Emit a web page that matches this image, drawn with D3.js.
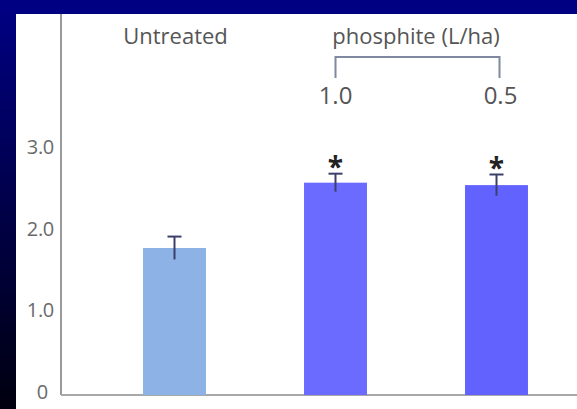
<!DOCTYPE html>
<html><head><meta charset="utf-8">
<script src="https://cdn.jsdelivr.net/npm/d3@7"></script>
<style>html,body{margin:0;padding:0;background:#000080;}svg{display:block;}</style>
</head><body>
<script>
const categories = ["Untreated", "1.0", "0.5"];
const values = [1.80, 2.60, 2.57];
const errors = [0.14, 0.11, 0.13];
const significant = [false, true, true];
const yTicks = [0, 1, 2, 3];
const yTickLabels = ["0", "1.0", "2.0", "3.0"];
const barColors = ["#8cb2e6", "#6b6bff", "#6262ff"];

const W = 577, H = 409;
const svg = d3.select("body").append("svg").attr("width", W).attr("height", H);
const defs = svg.append("defs");
const g1 = defs.append("linearGradient").attr("id", "bg").attr("x1", 0).attr("y1", 0).attr("x2", 0).attr("y2", 1);
g1.append("stop").attr("offset", "0%").attr("stop-color", "#000084");
g1.append("stop").attr("offset", "100%").attr("stop-color", "#00000f");
svg.append("rect").attr("width", W).attr("height", H).attr("fill", "url(#bg)");
svg.append("rect").attr("x", 0).attr("y", 0).attr("width", W).attr("height", 14).attr("fill", "#000082");
svg.append("rect").attr("x", 16).attr("y", 14).attr("width", W - 16).attr("height", H - 14).attr("fill", "#ffffff");

const x = d3.scaleBand().domain(categories).range([94, 577]).paddingInner(0.609).paddingOuter(0.3045);
const y = d3.scaleLinear().domain([0, 3]).range([395, 150]);
const font = "'Open Sans', 'Noto Sans', sans-serif";
const textCol = "#555555";

// axes lines
svg.append("line").attr("x1", 61).attr("x2", 61).attr("y1", 14).attr("y2", y(0))
  .attr("stroke", "#9a9a9a").attr("stroke-width", 2);
svg.append("line").attr("x1", 61).attr("x2", W).attr("y1", y(0)).attr("y2", y(0))
  .attr("stroke", "#a8a8a8").attr("stroke-width", 2);

// tick labels
svg.selectAll("text.ytick").data(yTicks).enter().append("text")
  .attr("class", "ytick")
  .attr("x", (d, i) => i === 0 ? 48 : 54)
  .attr("y", d => y(d) + 4)
  .attr("text-anchor", "end")
  .attr("font-family", font).attr("font-size", 20).attr("font-weight", 500)
  .attr("letter-spacing", "-0.3px").attr("fill", "#6a6a6a")
  .text((d, i) => yTickLabels[i]);

// bars
svg.selectAll("rect.bar").data(values).enter().append("rect")
  .attr("class", "bar")
  .attr("x", (d, i) => x(categories[i]))
  .attr("width", x.bandwidth())
  .attr("y", d => y(d))
  .attr("height", d => y(0) - y(d))
  .attr("fill", (d, i) => barColors[i]);

// error bars
const eg = svg.append("g").attr("stroke", "#3c3f6a").attr("stroke-width", 2);
values.forEach((v, i) => {
  const cx = x(categories[i]) + x.bandwidth() / 2;
  eg.append("line").attr("x1", cx).attr("x2", cx).attr("y1", y(v + errors[i])).attr("y2", y(v - errors[i]));
  eg.append("line").attr("x1", cx - 7).attr("x2", cx + 7).attr("y1", y(v + errors[i])).attr("y2", y(v + errors[i]));
  if (significant[i]) {
    svg.append("text").attr("x", cx).attr("y", y(v + errors[i]) + 3)
      .attr("text-anchor", "middle").attr("font-family", font).attr("font-weight", "bold")
      .attr("font-size", 28).attr("fill", "#222").text("*");
  }
});

// top labels
const c0 = x(categories[0]) + x.bandwidth() / 2;
const c1 = x(categories[1]) + x.bandwidth() / 2;
const c2 = x(categories[2]) + x.bandwidth() / 2;
svg.append("text").attr("x", c0 + 1).attr("y", 44).attr("text-anchor", "middle")
  .attr("font-family", font).attr("font-size", 22).attr("font-weight", 500).attr("fill", textCol).text("Untreated");
svg.append("text").attr("x", (c1 + c2) / 2).attr("y", 44).attr("text-anchor", "middle")
  .attr("font-family", font).attr("font-size", 22).attr("font-weight", 500).attr("fill", textCol).text("phosphite (L/ha)");
svg.append("path")
  .attr("d", `M${c1},78 V57 H${c2 + 3} V78`)
  .attr("fill", "none").attr("stroke", "#7f8aa0").attr("stroke-width", 2);
[categories[1], categories[2]].forEach((c, k) => {
  svg.append("text").attr("x", (k === 0 ? c1 : c2 + 4)).attr("y", 104).attr("text-anchor", "middle")
    .attr("font-family", font).attr("font-size", 24).attr("font-weight", 500).attr("fill", textCol).text(c);
});
</script>
</body></html>
